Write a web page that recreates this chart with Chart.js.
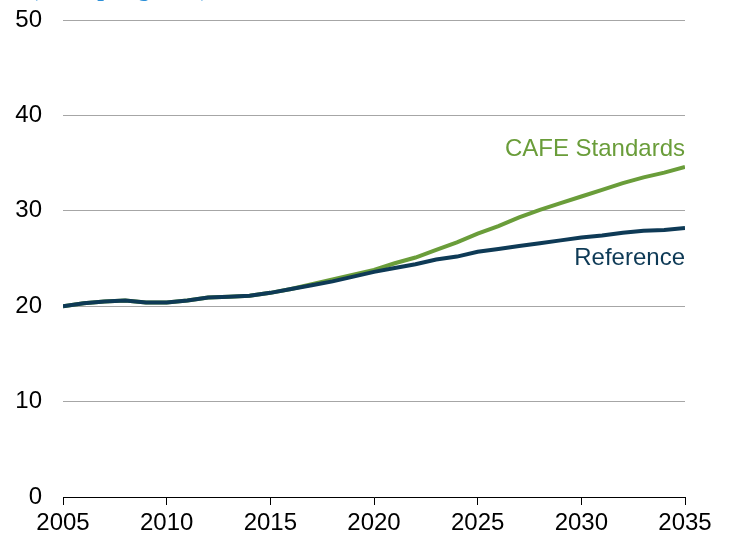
<!DOCTYPE html>
<html lang="en">
<head>
  <meta charset="UTF-8" />
  <title>CAFE Standards vs Reference</title>
  <style>
    html, body { margin: 0; padding: 0; background: #ffffff; }
    #wrap { width: 730px; height: 538px; position: relative; }
  </style>
</head>
<body>
  <div id="wrap"><canvas id="mpgChart" width="730" height="538"></canvas></div>

  <script src="https://cdn.jsdelivr.net/npm/chart.js"></script>
  <script>
    // fuel economy, miles per gallon
    const years = [2005, 2006, 2007, 2008, 2009, 2010, 2011, 2012, 2013, 2014, 2015,
                   2016, 2017, 2018, 2019, 2020, 2021, 2022, 2023, 2024, 2025,
                   2026, 2027, 2028, 2029, 2030, 2031, 2032, 2033, 2034, 2035];
    const reference = [20.0, 20.3, 20.5, 20.6, 20.4, 20.4, 20.6, 20.9, 21.0, 21.1, 21.4,
                       21.8, 22.2, 22.6, 23.1, 23.6, 24.0, 24.4, 24.9, 25.2, 25.7,
                       26.0, 26.3, 26.6, 26.9, 27.2, 27.4, 27.7, 27.9, 28.0, 28.2];
    const cafe = [20.0, 20.3, 20.5, 20.6, 20.4, 20.4, 20.6, 20.9, 21.0, 21.1, 21.4,
                  21.8, 22.3, 22.8, 23.3, 23.8, 24.5, 25.1, 25.9, 26.7, 27.6,
                  28.4, 29.3, 30.1, 30.8, 31.5, 32.2, 32.9, 33.5, 34.0, 34.6];
    const yTicks = [0, 10, 20, 30, 40, 50];
    const xTicks = [2005, 2010, 2015, 2020, 2025, 2030, 2035];

    const GREEN = '#6a9d3a';
    const NAVY = '#0e3a56';
    const FONT = 'Arial, "Liberation Sans", sans-serif';

    // line labels on the right + cut-off unit title at the top
    const labelsPlugin = {
      id: 'labels',
      afterDraw(chart) {
        const ctx = chart.ctx;
        const x = chart.scales.x;
        const y = chart.scales.y;
        ctx.save();
        ctx.font = '24px ' + FONT;
        ctx.textAlign = 'right';
        ctx.textBaseline = 'middle';
        ctx.fillStyle = GREEN;
        ctx.fillText('CAFE Standards', x.getPixelForValue(2035), y.getPixelForValue(36.4));
        ctx.fillStyle = NAVY;
        ctx.fillText('Reference', x.getPixelForValue(2035), y.getPixelForValue(25.0));

        ctx.font = 'bold 24px "Liberation Serif", "DejaVu Serif", serif';
        ctx.textAlign = 'left';
        ctx.textBaseline = 'alphabetic';
        ctx.fillStyle = '#2b8fd8';
        ctx.fillText('(miles per gallon)', 30, -4);
        ctx.restore();
      }
    };

    const ctx = document.getElementById('mpgChart').getContext('2d');
    new Chart(ctx, {
      type: 'line',
      data: {
        datasets: [
          {
            label: 'Reference',
            data: years.map((yr, i) => ({ x: yr, y: reference[i] })),
            borderColor: NAVY,
            borderWidth: 4,
            pointRadius: 0,
            tension: 0
          },
          {
            label: 'CAFE Standards',
            data: years.map((yr, i) => ({ x: yr, y: cafe[i] })),
            borderColor: GREEN,
            borderWidth: 4,
            pointRadius: 0,
            tension: 0
          }
        ]
      },
      options: {
        responsive: false,
        animation: false,
        layout: { padding: { top: 20, right: 45, left: 0, bottom: 0 } },
        plugins: {
          legend: { display: false },
          tooltip: { enabled: false }
        },
        scales: {
          x: {
            type: 'linear',
            min: 2005,
            max: 2035,
            afterBuildTicks: (s) => { s.ticks = xTicks.map(v => ({ value: v })); },
            ticks: {
              color: '#000000',
              font: { family: FONT, size: 24 },
              padding: 4,
              maxRotation: 0,
              callback: (v) => String(v)
            },
            grid: { drawOnChartArea: false, drawTicks: true, tickLength: 8, color: '#000000' },
            border: { color: '#000000', width: 1 },
            afterFit: (s) => { s.height = 41; s.paddingLeft = 0; s.paddingRight = 0; }
          },
          y: {
            min: 0,
            max: 50,
            afterBuildTicks: (s) => { s.ticks = yTicks.map(v => ({ value: v })); },
            ticks: {
              color: '#000000',
              font: { family: FONT, size: 24 },
              padding: 21
            },
            grid: { color: '#a6a6a6', lineWidth: 1, drawTicks: false },
            border: { display: false },
            afterFit: (s) => { s.width = 63; s.paddingTop = 0; s.paddingBottom = 0; }
          }
        }
      },
      plugins: [labelsPlugin]
    });
  </script>
</body>
</html>
